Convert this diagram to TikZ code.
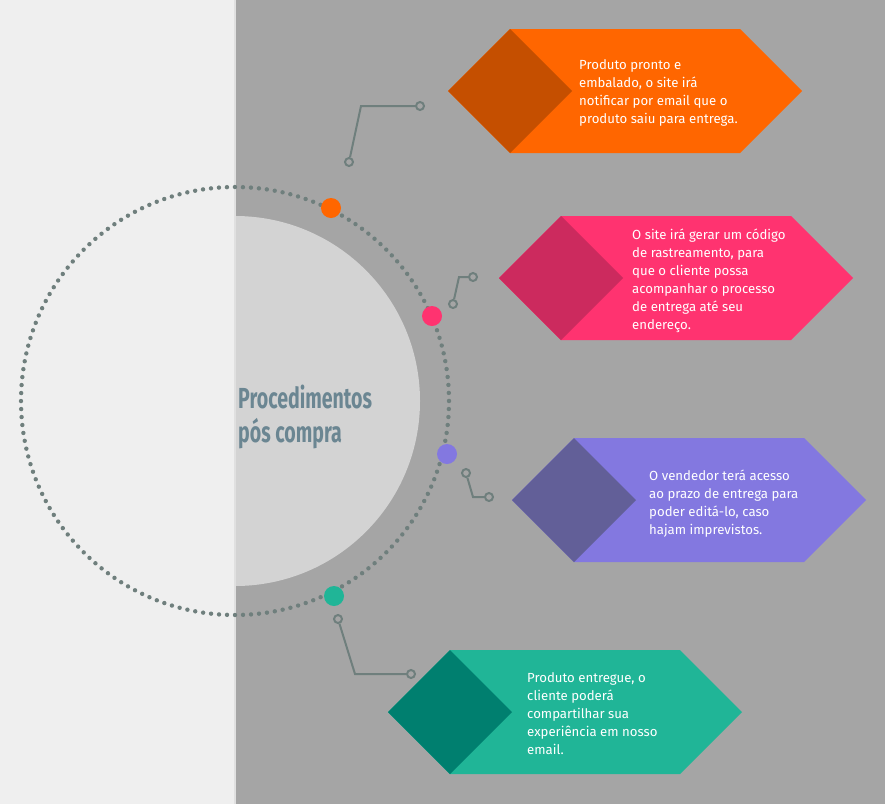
\documentclass[tikz,border=0pt]{standalone}
\usepackage{fontspec}
\usepackage{graphicx}
\setmainfont{Fira Sans}
\newfontfamily\titlefont{Fira Sans}

\definecolor{panel}{HTML}{EFEFEF}
\definecolor{backdrop}{HTML}{A5A5A5}
\definecolor{discgray}{HTML}{D3D3D3}
\definecolor{wire}{HTML}{6F7F7D}
\definecolor{titleblue}{HTML}{6B8692}
\definecolor{orangeA}{HTML}{FF6600}
\definecolor{orangeB}{HTML}{C54F00}
\definecolor{pinkA}{HTML}{FF3370}
\definecolor{pinkB}{HTML}{CC2A5E}
\definecolor{violetA}{HTML}{8378E0}
\definecolor{violetB}{HTML}{625F98}
\definecolor{tealA}{HTML}{20B597}
\definecolor{tealB}{HTML}{007F6F}

% arrow-like hexagon with a darker diamond at its left end
% #1 left point x, #2 middle y, #3 body colour, #4 diamond colour
\newcommand{\stepshape}[4]{%
  \fill[#3] (#1,#2) -- ++(62,-62) -- ++(230,0) -- ++(62,62) -- ++(-62,62) -- ++(-230,0) -- cycle;
  \fill[#4] (#1,#2) -- ++(62,-62) -- ++(62,62) -- ++(-62,62) -- cycle;}

\begin{document}
\begin{tikzpicture}[x=1pt,y=-1pt,
  marker/.style={circle,inner sep=0pt,minimum size=20pt},
  pin/.style={circle,draw=wire,line width=2pt,inner sep=0pt,minimum size=8pt},
  wireline/.style={draw=wire,line width=2pt},
  steptext/.style={anchor=west,align=left,text=white,inner sep=0pt,
    font=\fontsize{13.2}{18}\selectfont},
  titletext/.style={anchor=base west,align=left,text=titleblue,inner sep=0pt,
    font=\titlefont\bfseries\fontsize{29}{34}\selectfont}]

\useasboundingbox (0,0) rectangle (885,804);
\fill[panel] (0,0) rectangle (235,804);
\fill[backdrop] (235,0) rectangle (885,804);

% half disc on the right of the divider
\begin{scope}
  \clip (235,0) rectangle (885,804);
  \fill[discgray] (235,401) circle (185);
\end{scope}
\draw[draw=discgray!70!white,line width=2pt] (235,0) -- (235,804);

% dotted orbit
\draw[wire,line width=4.4pt,line cap=round,dash pattern=on 0pt off 8.004pt] (235,401) circle (214);

% title (base anchor sits on the last line)
\node[titletext] (title) at (238,442)
  {\scalebox{0.675}[1]{Procedimentos}\\\scalebox{0.675}[1]{pós compra}};

% markers on the orbit
\node[marker,fill=orangeA] (m1) at (331,208) {};
\node[marker,fill=pinkA]   (m2) at (432,316) {};
\node[marker,fill=violetA] (m3) at (447,454) {};
\node[marker,fill=tealA]   (m4) at (334,596) {};

% step boxes
\stepshape{448}{91}{orangeA}{orangeB}
\stepshape{499}{278}{pinkA}{pinkB}
\stepshape{512}{500}{violetA}{violetB}
\stepshape{388}{712}{tealA}{tealB}

\node[steptext] (t1) at (579,93)
  {Produto pronto e\\embalado, o site irá\\notificar por email que o\\produto saiu para entrega.};
\node[steptext] (t2) at (632,281)
  {O site irá gerar um código\\de rastreamento, para\\que o cliente possa\\acompanhar o processo\\de entrega até seu\\endereço.};
\node[steptext] (t3) at (649,504)
  {O vendedor terá acesso\\ao prazo de entrega para\\poder editá-lo, caso\\hajam imprevistos.};
\node[steptext] (t4) at (527,714)
  {Produto entregue, o\\cliente poderá\\compartilhar sua\\experiência em nosso\\email.};

% connector wires
\node[pin] (p1a) at (349,162) {};
\node[pin] (p1b) at (420,106) {};
\coordinate (k1) at (361,106);
\draw[wireline] (p1a) -- (k1) -- (p1b);

\node[pin] (p2a) at (453,304) {};
\node[pin] (p2b) at (473,277) {};
\coordinate (k2) at (459,277);
\draw[wireline] (p2a) -- (k2) -- (p2b);

\node[pin] (p3a) at (466,473) {};
\node[pin] (p3b) at (489,497) {};
\coordinate (k3) at (473,497);
\draw[wireline] (p3a) -- (k3) -- (p3b);

\node[pin] (p4a) at (338,619) {};
\node[pin] (p4b) at (411,674) {};
\coordinate (k4) at (355,674);
\draw[wireline] (p4a) -- (k4) -- (p4b);
\end{tikzpicture}
\end{document}
